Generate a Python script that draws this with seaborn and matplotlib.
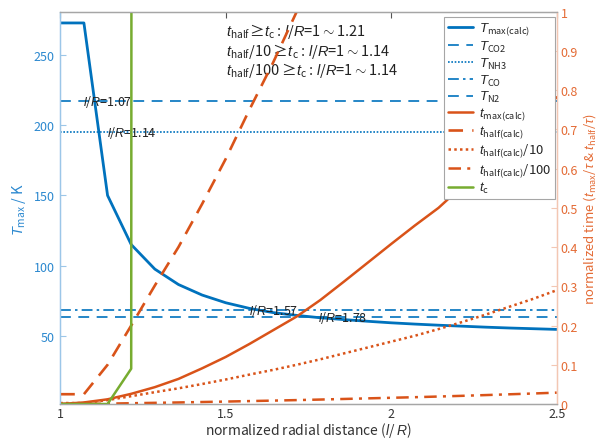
import numpy as np
import pandas as pd
import seaborn as sns
import matplotlib
matplotlib.use("Agg")
import matplotlib.pyplot as plt


# normalized radial distance l/R (grid used for all curves)
lr = [1.0, 1.0714, 1.1429, 1.2143, 1.2857, 1.3571, 1.4286, 1.5, 1.5714, 1.6429, 1.7143,
      1.7857, 1.8571, 1.9286, 2.0, 2.0714, 2.1429, 2.2143, 2.2857, 2.3571, 2.4286, 2.5]

# maximum temperature (K)
t_max_K = [273, 273, 150, 115, 97.5, 86.5, 79, 73.5, 69.5, 66.5, 64.5,
           62.8, 61.5, 60.3, 59.2, 58.3, 57.5, 56.8, 56.1, 55.5, 55.0, 54.5]

# normalized times
t_max_calc = [0.0, 0.004, 0.012, 0.026, 0.043, 0.064, 0.091, 0.120, 0.153, 0.188, 0.223,
              0.265, 0.312, 0.360, 0.408, 0.455, 0.500, 0.555, 0.610, 0.665, 0.722, 0.782]
t_half_calc = [0.025, 0.025, 0.10, 0.20, 0.302, 0.40, 0.51, 0.625, 0.75, 0.87, 1.0,
               1.14, 1.29, 1.44, 1.59, 1.74, 1.91, 2.09, 2.28, 2.48, 2.68, 2.90]

# t_c (only the first points are finite / relevant)
lr_tc = [1.0, 1.0714, 1.1429, 1.2143, 1.2857]
t_c = [0.0, 0.0, 0.0, 0.09, 100.0]

# sublimation temperatures and the l/R where T_max crosses them
T_names = ["CO2", "NH3", "CO", "N2"]
T_subl = [217, 195, 68, 63]
T_styles = [(0, (6.5, 4.5)), (0, (1, 1)), (0, (6.5, 2.5, 1.5, 2.5)), (0, (6.5, 4.5))]
lr_cross = [1.07, 1.14, 1.57, 1.78]

annot_lines = [r"$t_{\rm half}\!\geq\! t_{\rm c}$ : $l$/$R$=1$\sim$1.21",
               r"$t_{\rm half}$/10$\geq\! t_{\rm c}$ : $l$/$R$=1$\sim$1.14",
               r"$t_{\rm half}$/100$\geq\! t_{\rm c}$ : $l$/$R$=1$\sim$1.14"]

BLUE = "#0072BD"
ORANGE = "#D95319"
GREEN = "#77AC30"

sns.set_style("white")
plt.rcParams["font.family"] = ["Noto Sans CJK JP", "DejaVu Sans"]
plt.rcParams["mathtext.fontset"] = "custom"
plt.rcParams["mathtext.rm"] = "Noto Sans CJK JP"
plt.rcParams["mathtext.it"] = "Liberation Sans:italic"
plt.rcParams["mathtext.bf"] = "Noto Sans CJK JP:bold"
plt.rcParams["axes.unicode_minus"] = False

df = pd.DataFrame({"lr": lr, "Tmax": t_max_K, "tmax": t_max_calc, "thalf": t_half_calc})
df["thalf10"] = df["thalf"] / 10
df["thalf100"] = df["thalf"] / 100
df_tc = pd.DataFrame({"lr": lr_tc, "tc": t_c})

fig = plt.figure(figsize=(5.98, 4.39), dpi=100)
ax = fig.add_axes([0.1008, 0.0774, 0.8301, 0.8936])
ax2 = ax.twinx()

# left axis: temperatures
sns.lineplot(data=df, x="lr", y="Tmax", ax=ax, color=BLUE, lw=2, estimator=None, sort=False,
             label=r"$T_{\rm max(calc)}$", legend=False)
for name, val, ls in zip(T_names, T_subl, T_styles):
    ax.axhline(val, color=BLUE, lw=1.2, ls=ls, label=r"$T_{\rm " + name + "}$")
for xc, val in zip(lr_cross, T_subl):
    ax.text(xc, val, r"$l$/$R$=" + f"{xc:.2f}", fontsize=9, ha="left", va="center", color="#222222")
for i, line in enumerate(annot_lines):
    ax.text(1.5, [0.941, 0.890, 0.841][i], line, fontsize=10.5, color="#222222",
            transform=ax.get_xaxis_transform(), va="baseline", ha="left")

# right axis: normalized times
sns.lineplot(data=df, x="lr", y="tmax", ax=ax2, color=ORANGE, lw=1.8, estimator=None, sort=False,
             label=r"$t_{\rm max(calc)}$", legend=False)
sns.lineplot(data=df, x="lr", y="thalf", ax=ax2, color=ORANGE, lw=1.9, estimator=None, sort=False,
             label=r"$t_{\rm half(calc)}$", legend=False, linestyle=(0, (5.5, 3.5)))
sns.lineplot(data=df, x="lr", y="thalf10", ax=ax2, color=ORANGE, lw=1.8, estimator=None, sort=False,
             label=r"$t_{\rm half(calc)}$/10", legend=False, linestyle=(0, (1, 1.3)))
sns.lineplot(data=df, x="lr", y="thalf100", ax=ax2, color=ORANGE, lw=1.8, estimator=None, sort=False,
             label=r"$t_{\rm half(calc)}$/100", legend=False, linestyle=(0, (5, 2.5, 1.2, 2.5)))
sns.lineplot(data=df_tc, x="lr", y="tc", ax=ax2, color=GREEN, lw=1.8, estimator=None, sort=False,
             label=r"$t_{\rm c}$", legend=False)

ax.set_xlim(1, 2.5)
ax.set_ylim(1.3, 281)
ax2.set_ylim(0, 1)
ax.set_xticks([1, 1.5, 2, 2.5])
ax.set_xticklabels(["1", "1.5", "2", "2.5"])
ax.set_yticks([50, 100, 150, 200, 250])
ax2.set_yticks(np.arange(0, 1.01, 0.1))
ax2.set_yticklabels(["0", "0.1", "0.2", "0.3", "0.4", "0.5", "0.6", "0.7", "0.8", "0.9", "1"])

ax.set_xlabel(r"normalized radial distance ($l$/ $R$)", fontsize=10, color="#333333", labelpad=0)
ax.set_ylabel(r"$T_{\rm max}$ / K", fontsize=10.5, color="#2B88CF", labelpad=4)
ax2.set_ylabel(r"normalized time ($t_{\rm max}$/$\tau$ & $t_{\rm half}$/$\tau$)", fontsize=9.5,
               color="#E46B35", labelpad=2)

ax.tick_params(axis="x", direction="in", length=4, labelsize=9, colors="#555555",
               labelcolor="#333333", top=True, pad=2)
ax.tick_params(axis="y", direction="in", length=4, labelsize=9, colors="#9CC6E8",
               labelcolor="#2B88CF", pad=4)
ax2.tick_params(axis="y", direction="in", length=4, labelsize=9, colors="#F3C7B3",
                labelcolor="#E46B35", pad=3)

for a in (ax, ax2):
    a.spines["top"].set_color("#A6A6A6")
    a.spines["bottom"].set_color("#A6A6A6")
    a.spines["left"].set_color("#9CC6E8")
    a.spines["right"].set_color("#F3C7B3")
    for s in a.spines.values():
        s.set_linewidth(0.9)

h1, l1 = ax.get_legend_handles_labels()
h2, l2 = ax2.get_legend_handles_labels()
leg = ax2.legend(h1 + h2, l1 + l2, loc="upper right", bbox_to_anchor=(0.9966, 0.9865),
                 borderaxespad=0, fontsize=9.5, frameon=True, fancybox=False, framealpha=1,
                 edgecolor="#A6A6A6", handlelength=1.9, handletextpad=0.4,
                 labelspacing=0.12, borderpad=0.3)
leg.get_frame().set_linewidth(0.8)

fig.savefig("out.png", dpi=100)
